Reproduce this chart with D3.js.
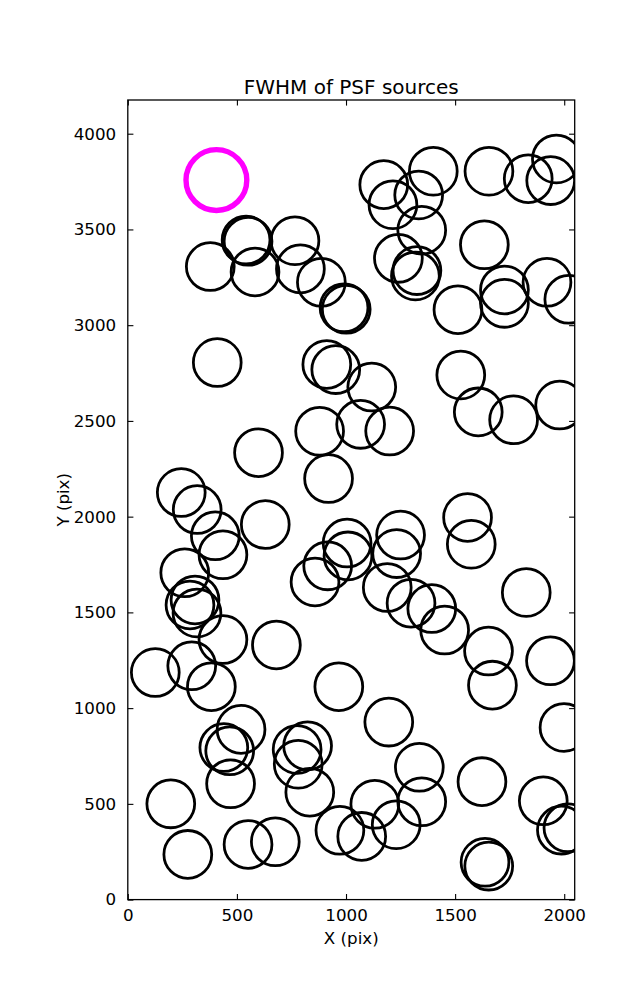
<!DOCTYPE html>
<html>
<head>
<meta charset="utf-8">
<script src="https://cdn.jsdelivr.net/npm/d3@7"></script>
<style>
  html, body { margin: 0; padding: 0; background: #fff; }
  svg { display: block; }
  text { font-family: "DejaVu Sans", sans-serif; fill: #000; }
</style>
</head>
<body>
<div id="chart"></div>
<script>
// ---- data ----
const titleText = "FWHM of PSF sources";
const xLabel = "X (pix)";
const yLabel = "Y (pix)";
const xTicks = [0, 500, 1000, 1500, 2000];
const yTicks = [0, 500, 1000, 1500, 2000, 2500, 3000, 3500, 4000];
const xDomain = [0, 2048];
const yDomain = [0, 4176];

// highlighted source (magenta)
const refX = [406];
const refY = [3758];

// PSF sources (black)
const srcX = [1173,1215,1400,1333,1347,1655,1835,1964,1938,1634,
  542,551,766,378,583,791,887,991,1001,1240,
  1318,1325,1513,1726,1726,1921,2021,410,912,953,
  1118,1526,1606,1768,1979,879,1067,1200,599,920,
  245,318,401,436,630,1557,1574,1005,1009,916,
  858,1250,1232,1189,1298,1393,1452,1826,261,308,
  285,317,436,681,1653,1937,126,293,383,967,
  1671,1999,1196,519,440,467,471,197,275,551,
  676,776,824,781,834,1336,1347,1132,1230,972,
  1072,1623,1904,1637,1654,1987,2017];
const srcY = [3734,3629,3804,3680,3496,3804,3765,3868,3755,3420,
  3445,3438,3441,3306,3278,3294,3224,3091,3083,3349,
  3257,3285,3081,3184,3114,3224,3135,2805,2795,2768,
  2677,2740,2547,2506,2583,2446,2482,2447,2334,2199,
  2126,2037,1900,1801,1959,1996,1856,1862,1795,1743,
  1659,1904,1807,1630,1548,1520,1408,1604,1707,1565,
  1539,1497,1358,1330,1298,1247,1186,1221,1112,1112,
  1120,899,927,889,794,777,605,500,236,288,
  302,784,803,707,561,691,511,498,391,362,
  330,616,516,195,175,363,375];

// ---- layout ----
const W = 637, H = 1000;
const pL = 127.8, pR = 574.7, pT = 100, pB = 899.6;

const svg = d3.select("#chart").append("svg")
  .attr("width", W).attr("height", H);

const x = d3.scaleLinear().domain(xDomain).range([pL, pR]);
const y = d3.scaleLinear().domain(yDomain).range([pB, pT]);

svg.append("defs").append("clipPath").attr("id", "plotclip")
  .append("rect").attr("x", pL).attr("y", pT)
  .attr("width", pR - pL).attr("height", pB - pT);

const plot = svg.append("g").attr("clip-path", "url(#plotclip)");

const sources = srcX.map((v, i) => ({x: v, y: srcY[i]}));
plot.selectAll("circle.src").data(sources).enter().append("circle")
  .attr("class", "src")
  .attr("cx", d => x(d.x)).attr("cy", d => y(d.y))
  .attr("r", 23.9)
  .attr("fill", "none").attr("stroke", "#000").attr("stroke-width", 2.78);

const refs = refX.map((v, i) => ({x: v, y: refY[i]}));
plot.selectAll("circle.ref").data(refs).enter().append("circle")
  .attr("class", "ref")
  .attr("cx", d => x(d.x)).attr("cy", d => y(d.y))
  .attr("r", 30.4)
  .attr("fill", "none").attr("stroke", "#ff00ff").attr("stroke-width", 5.4);

// axes (ticks inward on all four sides)
const tickLen = 5.6;
const fs = 16.7;
const fmt = d3.format("d");

const axBottom = d3.axisBottom(x).tickValues(xTicks).tickFormat(fmt).tickSizeInner(-tickLen).tickSizeOuter(0).tickPadding(tickLen + 4);
const axTop = d3.axisTop(x).tickValues(xTicks).tickSizeInner(-tickLen).tickSizeOuter(0).tickFormat("");
const axLeft = d3.axisLeft(y).tickValues(yTicks).tickFormat(fmt).tickSizeInner(-tickLen).tickSizeOuter(0).tickPadding(tickLen + 6);
const axRight = d3.axisRight(y).tickValues(yTicks).tickSizeInner(-tickLen).tickSizeOuter(0).tickFormat("");

function style(g) {
  g.select(".domain").remove();
  g.selectAll(".tick line").attr("stroke", "#000").attr("stroke-width", 1.1);
  g.selectAll(".tick text").style("font-family", "DejaVu Sans").style("font-size", fs + "px").attr("fill", "#000");
}
svg.append("g").attr("transform", `translate(0,${pB})`).call(axBottom).call(style);
svg.append("g").attr("transform", `translate(0,${pT})`).call(axTop).call(style);
svg.append("g").attr("transform", `translate(${pL},0)`).call(axLeft).call(style);
svg.append("g").attr("transform", `translate(${pR},0)`).call(axRight).call(style);

// frame
svg.append("rect").attr("x", pL).attr("y", pT)
  .attr("width", pR - pL).attr("height", pB - pT)
  .attr("fill", "none").attr("stroke", "#000").attr("stroke-width", 1.3);

// labels
svg.append("text").attr("x", (pL + pR) / 2).attr("y", 94)
  .attr("text-anchor", "middle").style("font-size", "20px").text(titleText);
svg.append("text").attr("x", (pL + pR) / 2).attr("y", 944)
  .attr("text-anchor", "middle").style("font-size", fs + "px").text(xLabel);
svg.append("text").attr("transform", `translate(69,${(pT + pB) / 2}) rotate(-90)`)
  .attr("text-anchor", "middle").style("font-size", fs + "px").text(yLabel);
</script>
</body>
</html>
